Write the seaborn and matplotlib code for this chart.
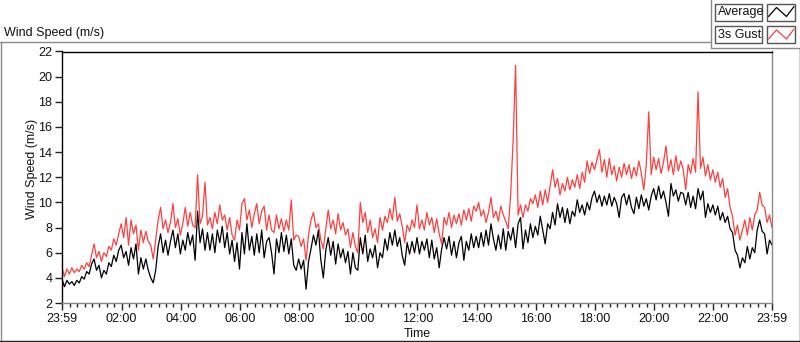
import numpy as np
import pandas as pd
import seaborn as sns
import matplotlib
matplotlib.use("Agg")
import matplotlib.pyplot as plt
from matplotlib.lines import Line2D
from matplotlib.patches import Rectangle

# ---- data (5-minute samples, minutes since 23:59) ----
sample_step = 5
avg = [
    3.9, 3.3, 3.8, 3.5, 3.7, 3.4, 3.8, 3.6, 4.1, 3.9, 4.5, 4.3,
    5.1, 5.5, 4.6, 5.0, 4.0, 4.6, 4.3, 5.2, 4.9, 5.8, 5.3, 6.2,
    6.6, 5.6, 6.1, 5.0, 6.4, 5.5, 6.7, 4.3, 5.6, 4.7, 5.5, 4.6,
    4.0, 3.6, 4.6, 6.5, 7.5, 6.0, 7.0, 5.8, 6.9, 7.8, 6.4, 7.5,
    5.9, 7.0, 6.2, 7.6, 6.6, 7.4, 5.4, 9.3, 6.8, 7.9, 6.2, 7.6,
    6.2, 7.5, 6.0, 7.8, 6.8, 8.1, 6.4, 7.6, 5.9, 7.0, 5.3, 6.8,
    4.7, 7.6, 5.9, 8.3, 6.2, 7.3, 5.8, 7.5, 6.0, 7.8, 5.6, 6.9,
    7.2, 6.0, 4.3, 7.1, 6.0, 7.6, 6.1, 7.4, 5.9, 7.1, 5.0, 4.6,
    5.5, 4.7, 5.4, 3.1, 5.3, 6.3, 7.4, 6.6, 7.8, 5.4, 4.0, 6.2,
    7.2, 5.8, 6.9, 5.1, 6.7, 5.6, 6.3, 5.2, 6.1, 4.3, 6.0, 4.8,
    4.6, 7.2, 5.9, 7.4, 5.3, 6.3, 5.6, 6.6, 4.8, 6.0, 5.6, 7.1,
    6.2, 7.6, 6.6, 7.8, 6.5, 7.2, 5.8, 5.0, 6.8, 5.9, 6.9, 6.0,
    7.2, 5.9, 6.9, 6.2, 7.1, 5.6, 7.0, 5.5, 6.4, 4.8, 6.3, 7.2,
    6.3, 7.3, 5.8, 6.9, 5.6, 6.8, 7.3, 5.4, 6.9, 6.2, 7.5, 6.4,
    7.3, 6.4, 7.6, 6.5, 7.8, 6.6, 8.3, 7.1, 6.2, 7.4, 6.3, 7.9,
    6.2, 7.7, 7.0, 8.0, 6.4, 8.3, 8.8, 6.3, 7.8, 6.8, 8.3, 7.2,
    8.1, 7.4, 8.9, 7.8, 6.7, 8.3, 7.9, 9.2, 8.2, 9.9, 8.8, 9.6,
    8.4, 9.5, 8.3, 9.3, 8.9, 10.2, 9.2, 9.8, 9.0, 10.0, 9.4, 10.4,
    10.9, 10.0, 10.6, 9.7, 10.5, 9.8, 10.7, 9.7, 10.4, 9.9, 8.8, 10.4,
    10.7, 9.8, 10.6, 9.6, 9.1, 10.4, 9.5, 10.6, 9.7, 10.3, 9.4, 10.5,
    11.1, 10.2, 11.3, 10.3, 10.9, 10.0, 8.9, 11.5, 10.5, 11.0, 10.1, 10.8,
    10.7, 9.8, 10.8, 9.6, 10.5, 9.5, 11.1, 10.2, 10.9, 8.8, 9.9, 9.2,
    9.8, 9.0, 9.7, 8.6, 9.2, 8.4, 8.9, 7.9, 7.6, 6.2, 5.8, 4.8,
    5.6, 5.2, 6.5, 5.5, 6.4, 6.0, 7.8, 8.6, 7.7, 7.5, 5.9, 7.0,
    6.6,
]
gust = [
    4.8, 4.1, 4.7, 4.3, 4.8, 4.4, 4.7, 4.5, 5.0, 4.7, 5.2, 4.9,
    5.8, 6.7, 5.6, 6.1, 5.3, 6.0, 5.7, 6.5, 6.2, 7.1, 6.6, 7.5,
    8.3, 7.2, 8.8, 6.6, 8.6, 7.5, 8.2, 6.2, 7.8, 6.8, 7.7, 6.9,
    6.6, 5.5, 7.0, 8.6, 9.6, 7.9, 8.6, 7.6, 8.4, 9.9, 8.0, 8.7,
    7.4, 8.3, 9.6, 8.1, 9.2, 8.2, 8.0, 12.2, 8.3, 8.9, 11.6, 8.2,
    8.8, 7.9, 9.2, 8.3, 9.8, 8.6, 9.0, 7.8, 8.8, 7.4, 7.0, 8.6,
    7.8, 9.9, 10.3, 8.6, 9.4, 8.0, 9.1, 9.9, 8.3, 9.3, 9.7, 7.8,
    9.0, 7.8, 7.6, 9.0, 7.9, 8.7, 7.7, 8.6, 7.8, 10.2, 7.0, 7.4,
    7.3, 6.5, 7.1, 5.4, 7.4, 8.6, 9.2, 8.0, 8.3, 7.0, 6.3, 7.9,
    9.4, 7.9, 8.6, 7.5, 9.1, 7.8, 8.4, 7.4, 7.9, 6.4, 7.6, 6.5,
    6.0, 10.0, 8.4, 9.2, 7.6, 8.6, 7.2, 7.9, 6.8, 8.8, 7.8, 8.9,
    8.4, 9.5, 8.6, 10.4, 8.5, 9.1, 8.1, 6.8, 8.2, 7.7, 8.6, 8.0,
    9.8, 7.9, 8.6, 7.8, 9.2, 8.2, 8.8, 7.6, 8.7, 7.5, 6.7, 8.8,
    8.2, 9.2, 8.0, 9.0, 8.3, 9.1, 8.2, 9.4, 8.6, 9.5, 8.5, 9.7,
    9.3, 10.0, 8.9, 9.4, 8.4, 9.2, 10.4, 8.8, 9.3, 8.5, 9.7, 9.0,
    8.5, 7.9, 10.6, 15.0, 20.9, 9.0, 9.8, 8.8, 9.8, 9.3, 10.3, 9.9,
    10.6, 9.6, 10.9, 9.8, 11.0, 10.0, 11.3, 12.6, 11.2, 11.9, 10.6, 11.5,
    10.9, 12.0, 11.0, 11.8, 11.2, 12.2, 11.1, 12.4, 11.6, 13.3, 12.3, 13.2,
    12.6, 13.4, 14.2, 12.4, 13.4, 12.0, 13.5, 12.2, 12.9, 11.7, 12.8, 12.0,
    13.1, 12.2, 13.0, 11.9, 12.8, 12.1, 13.3, 12.3, 11.0, 13.0, 17.2, 12.2,
    13.6, 12.6, 13.5, 12.3, 13.2, 14.5, 12.5, 13.4, 12.2, 13.7, 12.5, 13.3,
    12.6, 11.0, 13.0, 12.3, 13.5, 12.4, 18.8, 12.7, 13.6, 12.1, 13.0, 11.8,
    12.6, 11.6, 12.4, 11.2, 11.9, 10.4, 11.1, 9.6, 8.9, 7.4, 8.2, 7.0,
    7.8, 8.6, 7.4, 8.8, 7.8, 9.0, 9.4, 10.8, 9.8, 9.6, 8.4, 9.0,
    8.0,
]
tick_labels = ["23:59", "02:00", "04:00", "06:00", "08:00", "10:00", "12:00",
               "14:00", "16:00", "18:00", "20:00", "22:00", "23:59"]
tick_minutes = [0, 121, 241, 361, 481, 601, 721, 841, 961, 1081, 1201, 1321, 1440]
y_ticks = [2, 4, 6, 8, 10, 12, 14, 16, 18, 20, 22]
series_names = ["Average", "3s Gust"]
series_colors = ["#000000", "#ff4040"]

minutes = np.arange(len(avg)) * sample_step
df = pd.DataFrame({"t": minutes, "Average": avg, "3s Gust": gust})

sns.set_style("ticks")
plt.rcParams["font.family"] = ["Liberation Sans", "DejaVu Sans"]

W, H = 800, 342
fig = plt.figure(figsize=(W / 100, H / 100), dpi=100)
ax = fig.add_axes([62 / W, 1 - 303 / H, 710 / W, 251.5 / H])

for name, col in zip(series_names, series_colors):
    sns.lineplot(data=df, x="t", y=name, color=col, linewidth=0.9, ax=ax)

ax.set_xlim(0, 1440)
ax.set_ylim(2, 22)
ax.set_xticks(tick_minutes)
ax.set_xticklabels(tick_labels)
minor = [1 + 15 * k for k in range(1, 96) if k % 8 != 0]
ax.set_xticks(minor, minor=True)
ax.set_yticks(y_ticks)
ax.tick_params(axis="both", which="major", direction="out", length=5, width=1,
               color="#222222", labelsize=9, pad=2, labelcolor="#111111")
ax.tick_params(axis="x", which="minor", direction="out", length=3, width=1,
               color="#222222")
for s in ["top", "left"]:
    ax.spines[s].set_color("#000000")
    ax.spines[s].set_linewidth(1.0)
for s in ["bottom", "right"]:
    ax.spines[s].set_color("#8a8a8a")
    ax.spines[s].set_linewidth(1.0)

ax.set_xlabel("Time", fontsize=9, color="#111111")
ax.set_ylabel("Wind Speed (m/s)", fontsize=9, color="#111111")
ax.xaxis.set_label_coords(0.5, (303 - 328) / 251.5)
ax.yaxis.set_label_coords((38 - 62) / 710, (303 - 169) / 251.5)

fig.text(4 / W, 1 - 33 / H, "Wind Speed (m/s)", fontsize=9, va="center",
         ha="left", color="#111111")

def px_line(xs, ys, color, lw=1.0):
    fig.add_artist(Line2D([x / W for x in xs], [1 - y / H for y in ys],
                          transform=fig.transFigure, color=color, lw=lw))

# outer panel frame
px_line([0, 711], [42, 42], "#8a8a8a")
px_line([711, 711], [0, 48], "#8a8a8a")
px_line([711, 800], [48, 48], "#8a8a8a")
px_line([0.5, 0.5], [42, 341], "#8a8a8a")
px_line([0, 800], [340.5, 340.5], "#222222")
px_line([799.5, 799.5], [48, 341], "#222222")

# legend
for i, (name, col) in enumerate(zip(series_names, series_colors)):
    y0 = 4 + 22.5 * i
    fig.add_artist(Rectangle((715 / W, 1 - (y0 + 16.5) / H), 47 / W, 16.5 / H,
                             transform=fig.transFigure, facecolor="white",
                             edgecolor="#555555", lw=1.0))
    fig.add_artist(Rectangle((767 / W, 1 - (y0 + 16.5) / H), 28 / W, 16.5 / H,
                             transform=fig.transFigure, facecolor="white",
                             edgecolor="#555555", lw=1.0))
    fig.text(717.5 / W, 1 - (y0 + 8.5) / H, name, fontsize=9, va="center",
             ha="left", color="#111111")
    px_line([768.5, 776.5, 786.5, 794], [y0 + 12.5, y0 + 3.5, y0 + 12.5, y0 + 2.5], col, 0.9)

fig.savefig("out.png", dpi=100, facecolor="white")
